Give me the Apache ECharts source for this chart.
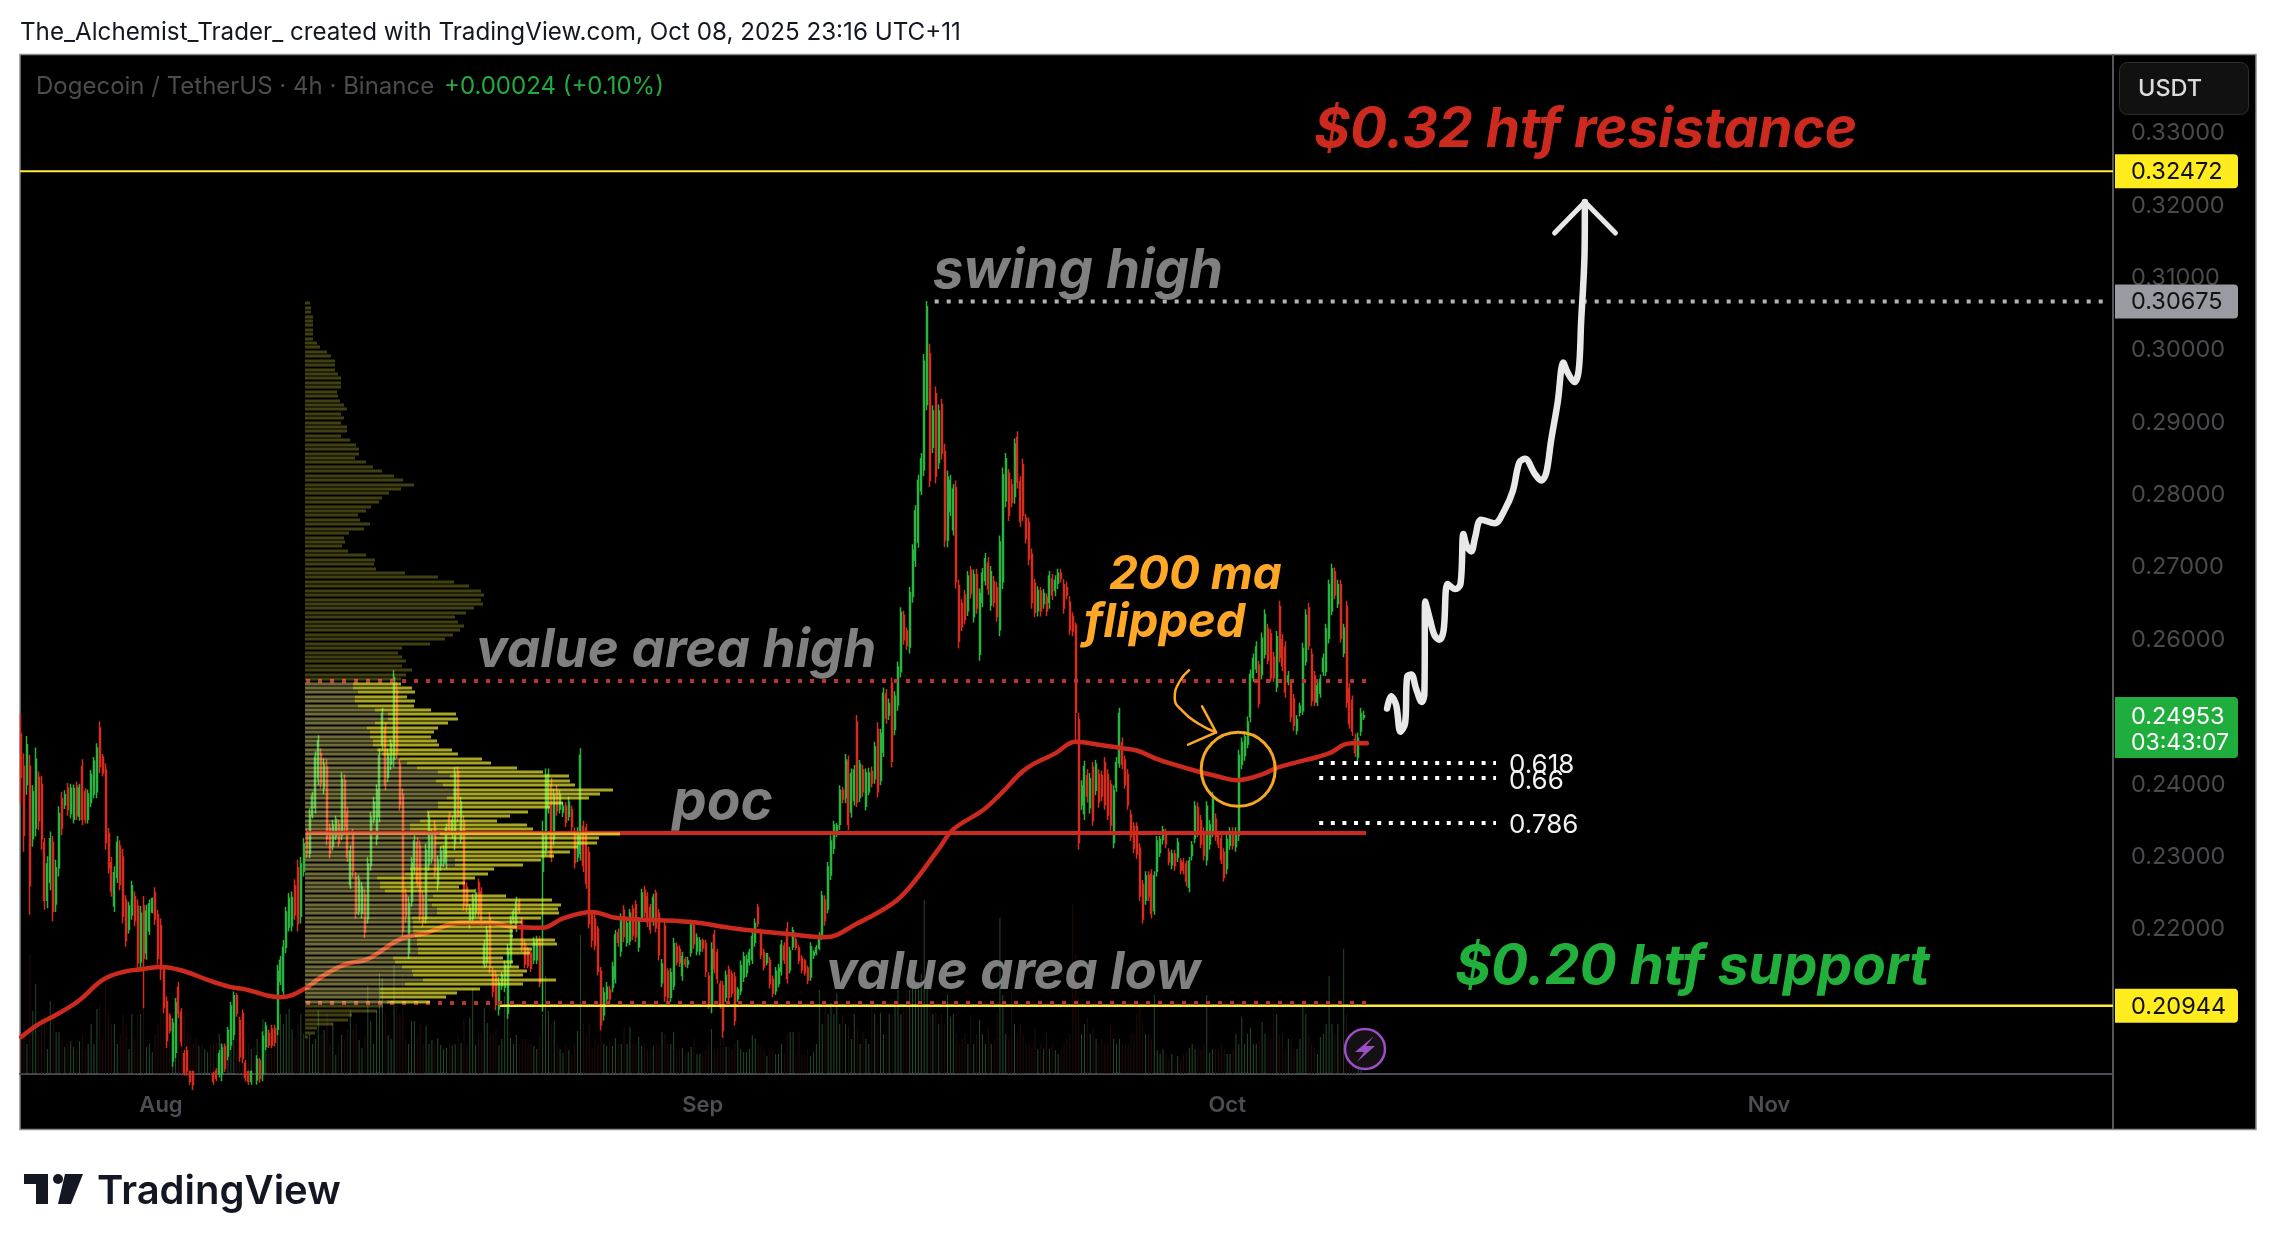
<!DOCTYPE html>
<html>
<head>
<meta charset="utf-8">
<title>DOGE/USDT</title>
<script src="https://cdn.jsdelivr.net/npm/echarts@6/dist/echarts.min.js"></script>
<style>html,body{margin:0;padding:0;background:#fff}#c{width:2276px;height:1250px}</style>
</head>
<body>
<div id="c"></div>
<script>
// Prices are in units of 0.0001 USDT. Every candle is [open, close, low, high].
const candlesJul = [
[2470,2410,2374,2498],[2425,2330,2307,2443],[2400,2455,2386,2467],[2425,2260,2220,2441],[2325,2390,2314,2399],[2340,2435,2328,2451],
[2410,2350,2337,2418],[2400,2325,2310,2412],[2320,2240,2227,2326],[2240,2290,2229,2301],[2265,2325,2254,2335],[2320,2225,2211,2329],
[2235,2285,2224,2296],[2285,2360,2273,2370],[2380,2340,2330,2390],[2372,2386,2366,2392],[2395,2365,2357,2402],[2360,2395,2353,2401],
[2352,2394,2346,2400],[2398,2358,2351,2404],[2356,2395,2350,2401],[2425,2352,2344,2435],[2390,2352,2346,2395],[2352,2387,2346,2393],
[2375,2414,2369,2420],[2387,2432,2381,2438],[2390,2450,2381,2457],[2478,2425,2416,2487],[2438,2416,2411,2442],[2420,2320,2310,2429],
[2332,2285,2277,2340],[2292,2253,2245,2300],[2232,2278,2224,2287],[2272,2320,2264,2329],[2315,2262,2254,2323],[2300,2218,2208,2311],
[2240,2184,2176,2247],[2200,2232,2194,2238],[2220,2260,2213,2267],[2245,2212,2204,2252],[2232,2154,2144,2241],[2155,2222,2144,2232],
[2232,2160,2091,2246],[2168,2225,2158,2234],[2198,2235,2192,2241],[2224,2242,2222,2244],[2250,2214,2206,2258],[2220,2160,2151,2227]
];
const candlesAug = [
[2205,2145,2130,2215],[2145,2092,2084,2151],[2100,2046,2036,2107],[2080,2060,2056,2084],[2018,2070,2010,2077],[2030,2098,2022,2105],
[2120,2084,2077,2127],[2085,2045,2038,2091],[2028,2002,1998,2033],[2032,2004,1998,2038],[2003,1990,1985,2005],[2003,1985,1978,2005],
[1994,1980,1975,1996],[1976,1990,1972,1995],[1990,1974,1970,1992],[1972,1986,1968,1990],[1978,1990,1975,1993],[1993,1982,1978,1995],
[1999,1990,1985,2003],[2004,1994,1990,2008],[2000,2028,1995,2033],[2000,2036,1990,2042],[2038,2008,2003,2042],[2025,2060,2019,2065],
[2040,2094,2033,2100],[2055,2108,2047,2114],[2108,2084,2079,2112],[2074,2024,2017,2079],[2084,2022,2015,2089],[2015,1995,1990,2019],
[2003,1990,1985,2005],[1990,2003,1985,2005],[1995,1985,1980,1998],[1992,2020,1985,2026],[2018,1994,1988,2022],[2000,2052,1990,2059],
[2038,2066,2033,2072],[2056,2040,2036,2061],[2062,2040,2036,2068],[2063,2044,2038,2068],[2062,2142,2054,2151],[2128,2157,2123,2163],
[2115,2175,2105,2185],[2175,2224,2167,2231],[2203,2243,2197,2250],[2205,2244,2197,2252],[2260,2220,2213,2269],[2285,2208,2197,2296],
[2218,2290,2208,2300],[2280,2318,2273,2326],[2332,2305,2298,2339],[2305,2358,2298,2367],[2358,2384,2353,2390],[2368,2438,2360,2446],
[2408,2460,2399,2468],[2442,2402,2394,2450],[2395,2428,2387,2436],[2425,2325,2316,2435],[2340,2305,2298,2346],[2315,2344,2309,2351],
[2328,2352,2323,2357],[2345,2320,2314,2352],[2330,2408,2323,2417],[2405,2342,2334,2414],[2360,2300,2293,2369],[2262,2308,2256,2316],
[2330,2280,2272,2339],[2272,2222,2215,2279],[2225,2268,2219,2275],[2222,2258,2215,2265],[2248,2196,2188,2256],[2215,2290,2208,2300],
[2288,2354,2281,2362],[2352,2376,2346,2383],[2325,2392,2316,2400],[2356,2440,2348,2450],[2455,2498,2447,2506],[2476,2400,2392,2486],
[2410,2442,2403,2450],[2428,2456,2420,2463],[2435,2548,2424,2558],[2530,2445,2436,2542],[2428,2372,2364,2436],[2385,2198,2189,2394],
[2248,2218,2210,2256],[2168,2236,2159,2245],[2238,2292,2231,2300],[2285,2322,2277,2330],[2320,2265,2258,2327],[2315,2220,2212,2323],
[2246,2210,2203,2254],[2215,2310,2208,2318],[2290,2354,2281,2362],[2298,2332,2291,2339],[2342,2280,2272,2350],[2262,2295,2254,2302],
[2288,2308,2281,2314],[2292,2310,2286,2316],[2292,2340,2284,2346],[2355,2338,2330,2362],[2332,2350,2325,2357],[2318,2415,2309,2424],
[2418,2356,2348,2425],[2325,2376,2318,2383],[2350,2234,2226,2357],[2258,2232,2224,2265],[2208,2229,2201,2235],[2216,2243,2210,2249],
[2224,2250,2217,2256],[2264,2224,2217,2270],[2252,2212,2205,2258],[2152,2178,2146,2185],[2155,2198,2148,2205],[2216,2148,2139,2224],
[2142,2114,2106,2148],[2136,2096,2088,2143],[2090,2126,2081,2134],[2122,2136,2116,2141],[2120,2150,2113,2157],[2084,2172,2076,2180],
[2155,2212,2148,2219],[2214,2224,2208,2228],[2202,2238,2196,2245],[2238,2226,2222,2242],[2212,2175,2169,2217],[2180,2152,2146,2185],
[2172,2150,2146,2176],[2167,2146,2141,2171],[2158,2182,2152,2189],[2158,2185,2152,2191],[2186,2126,2120,2191],[2280,2330,2086,2350],
[2310,2412,2302,2422],[2368,2414,2360,2422],[2400,2300,2293,2409],[2325,2385,2316,2394],[2392,2364,2357,2399],[2366,2386,2360,2392],
[2362,2370,2355,2376],[2370,2348,2341,2376],[2356,2376,2350,2383],[2365,2342,2334,2371],[2335,2292,2284,2341],[2300,2334,2293,2341],
[2305,2440,2295,2450],[2342,2288,2279,2350],[2340,2264,2256,2346],[2306,2208,2201,2314],[2225,2185,2175,2225],[2214,2178,2171,2222],
[2200,2142,2136,2205],[2142,2068,2060,2148],[2082,2112,2074,2120],[2104,2120,2097,2127],[2116,2104,2097,2122],[2120,2148,2113,2155],
[2132,2192,2125,2199],[2195,2182,2176,2201],[2170,2215,2162,2222],[2226,2190,2182,2233],[2182,2208,2176,2215],[2184,2222,2178,2228],
[2228,2192,2185,2234],[2234,2190,2182,2240],[2176,2210,2169,2217],[2216,2250,2210,2256],[2254,2224,2217,2260],[2245,2210,2203,2251],
[2230,2200,2194,2235],[2212,2244,2205,2249],[2250,2202,2196,2255],[2222,2165,2157,2228],[2126,2152,2120,2159],[2204,2108,2100,2210],
[2142,2106,2100,2146],[2106,2140,2100,2146],[2122,2180,2116,2188],[2176,2155,2150,2182],[2172,2154,2148,2178],[2136,2162,2129,2169],
[2158,2152,2148,2162],[2152,2156,2146,2162],[2168,2206,2162,2213],[2205,2180,2173,2210],[2170,2188,2164,2194],[2170,2184,2164,2189]
];
const candlesSep = [
[2184,2174,2169,2187],[2180,2142,2134,2185],[2135,2098,2090,2141],[2094,2172,2084,2182],[2192,2146,2139,2199],[2168,2132,2125,2173],
[2124,2096,2090,2129],[2122,2060,2050,2129],[2106,2136,2100,2143],[2144,2106,2100,2150],[2138,2112,2106,2143],[2134,2074,2067,2141],
[2104,2116,2100,2120],[2115,2150,2109,2157],[2134,2162,2127,2169],[2140,2158,2134,2165],[2155,2168,2150,2173],[2158,2190,2152,2196],
[2182,2208,2176,2215],[2230,2208,2203,2235],[2196,2165,2159,2201],[2168,2148,2143,2173],[2154,2166,2150,2166],[2157,2125,2118,2162],
[2131,2112,2106,2136],[2115,2142,2109,2148],[2125,2146,2120,2152],[2142,2178,2136,2185],[2177,2158,2152,2182],[2200,2132,2125,2210],
[2144,2170,2139,2176],[2176,2198,2171,2203],[2185,2175,2171,2189],[2174,2157,2152,2178],[2160,2144,2139,2164],[2156,2140,2136,2159],
[2146,2130,2124,2150],[2134,2176,2129,2182],[2164,2168,2159,2171],[2168,2174,2164,2178],[2174,2190,2171,2196],[2190,2246,2185,2253],
[2240,2212,2205,2247],[2228,2286,2222,2293],[2275,2322,2268,2330],[2312,2344,2304,2350],[2332,2343,2327,2347],[2345,2392,2337,2399],
[2392,2380,2374,2397],[2382,2434,2374,2442],[2432,2345,2337,2440],[2362,2415,2354,2422],[2378,2420,2371,2427],[2486,2376,2369,2496],
[2382,2428,2376,2434],[2420,2390,2383,2427],[2370,2416,2364,2422],[2390,2416,2385,2423],[2418,2402,2396,2425],[2408,2452,2401,2459],
[2476,2390,2382,2486],[2406,2470,2399,2477],[2445,2526,2438,2534],[2525,2492,2484,2532],[2496,2512,2489,2519],[2540,2432,2424,2548],
[2476,2522,2468,2529],[2510,2562,2502,2570],[2556,2638,2548,2645],[2634,2600,2593,2640],[2612,2592,2586,2617],[2590,2665,2581,2673],
[2660,2724,2651,2732],[2710,2778,2701,2786],[2735,2820,2727,2828],[2806,2850,2800,2858],[2835,2985,2826,2995],[2925,3060,2917,3068],
[2995,2820,2811,3009],[2866,2916,2858,2924],[2940,2826,2816,2950],[2845,2916,2836,2925],[2925,2858,2849,2933],[2860,2738,2728,2871],
[2738,2825,2728,2834],[2778,2820,2771,2828],[2752,2808,2744,2815],[2810,2680,2671,2820],[2675,2598,2588,2683],[2650,2618,2612,2656],
[2662,2628,2621,2669],[2640,2688,2633,2695],[2696,2664,2657,2702],[2632,2690,2624,2697],[2690,2644,2636,2698],[2580,2664,2571,2671],
[2652,2692,2645,2699],[2682,2712,2675,2720],[2706,2670,2662,2714],[2648,2694,2640,2702],[2680,2652,2645,2688],[2672,2632,2625,2680],
[2614,2735,2605,2744],[2680,2828,2670,2838],[2792,2850,2783,2858],[2830,2772,2764,2836],[2814,2790,2783,2822],[2798,2870,2788,2878],
[2880,2818,2809,2888],[2818,2764,2756,2826],[2842,2772,2764,2850],[2768,2740,2733,2774],[2762,2712,2703,2769],[2718,2652,2643,2726],
[2678,2638,2631,2684],[2640,2668,2632,2674],[2667,2640,2632,2673],[2650,2664,2643,2670],[2658,2640,2633,2664],[2652,2688,2643,2695],
[2684,2662,2655,2691],[2668,2682,2660,2689],[2678,2692,2670,2698],[2692,2685,2679,2698],[2676,2644,2636,2684],[2672,2662,2656,2680],
[2652,2614,2607,2660],[2632,2612,2605,2638],[2620,2500,2457,2624],[2490,2320,2310,2499],[2372,2398,2365,2406],[2360,2425,2351,2433],
[2412,2384,2375,2421],[2368,2408,2360,2416],[2424,2350,2343,2431],[2392,2428,2385,2434],[2414,2376,2368,2421],[2412,2384,2377,2419],
[2430,2372,2365,2438],[2414,2358,2351,2421],[2400,2344,2336,2406],[2320,2392,2312,2399],[2396,2430,2390,2438],[2430,2498,2423,2506],
[2458,2428,2421,2465],[2434,2400,2394,2440],[2414,2372,2365,2421],[2358,2328,2322,2365],[2342,2312,2305,2348],[2342,2304,2297,2348],
[2312,2246,2239,2319],[2262,2214,2208,2268],[2240,2274,2234,2280],[2274,2246,2239,2280],[2276,2222,2215,2283],[2226,2274,2220,2280],
[2280,2322,2273,2329],[2306,2324,2300,2329],[2324,2337,2317,2343],[2333,2318,2312,2339],[2306,2293,2288,2312],[2289,2304,2283,2310],
[2304,2288,2281,2310],[2300,2320,2293,2326],[2294,2282,2276,2298],[2292,2282,2276,2298],[2290,2266,2259,2295],[2258,2294,2251,2300],
[2302,2316,2295,2322],[2326,2370,2319,2377],[2368,2334,2327,2375],[2350,2318,2312,2358],[2335,2302,2295,2341],[2296,2370,2288,2377],
[2318,2344,2310,2351],[2335,2382,2327,2390],[2352,2328,2322,2360],[2330,2318,2312,2336],[2325,2296,2290,2331],[2306,2272,2266,2312]
];
const candlesOct = [
[2284,2324,2276,2331],[2316,2334,2310,2341],[2334,2316,2310,2341],[2314,2334,2307,2341],[2330,2440,2322,2448],[2428,2458,2421,2465],
[2440,2466,2433,2474],[2456,2486,2450,2494],[2494,2552,2486,2559],[2548,2574,2542,2581],[2560,2590,2554,2598],[2565,2512,2506,2571],
[2552,2602,2545,2610],[2580,2635,2574,2642],[2615,2572,2566,2622],[2608,2548,2542,2615],[2576,2548,2542,2583],[2535,2604,2528,2612],
[2646,2576,2569,2654],[2600,2564,2557,2608],[2590,2528,2520,2598],[2542,2550,2537,2557],[2540,2494,2486,2545],[2518,2482,2474,2525],
[2475,2490,2469,2496],[2500,2508,2494,2513],[2502,2588,2496,2596],[2570,2634,2564,2642],[2644,2592,2586,2651],[2580,2516,2508,2588],
[2550,2514,2508,2557],[2514,2536,2508,2542],[2526,2545,2520,2552],[2556,2574,2550,2581],[2556,2615,2550,2622],[2602,2676,2595,2683],
[2640,2698,2634,2705],[2694,2662,2656,2700],[2650,2676,2644,2683],[2676,2602,2596,2683],[2582,2616,2576,2622],[2646,2514,2506,2654],
[2532,2484,2477,2540],[2516,2474,2467,2523],[2462,2444,2438,2470],[2438,2464,2431,2472],[2474,2498,2467,2506],[2493,2495,2489,2502]
];
const volumes = [
35,50,30,120,63,90,40,55,60,25,73,70,42,42,35,27,30,33,27,25,33,40,25,30,50,30,65,70,35,100,60,50,50,30,40,60,50,25,60,35,60,60,110,27,30,22,40,50,
70,60,70,35,45,50,50,40,60,40,40,30,35,28,30,25,22,28,30,30,40,30,30,25,45,40,35,40,35,40,30,25,28,35,30,55,30,25,28,25,70,60,50,60,65,45,35,50,60,40,
35,40,30,35,64,40,44,60,30,51,19,30,39,35,45,64,45,50,34,26,40,88,53,30,63,101,96,60,39,35,109,70,60,100,35,30,53,53,35,50,30,48,30,34,30,36,29,25,26,30,
29,30,40,31,55,30,56,86,29,40,40,66,51,40,40,45,29,35,78,63,36,30,39,30,35,35,30,30,28,25,39,60,98,63,50,53,30,25,21,30,24,19,30,43,139,50,40,50,26,35,
30,60,30,28,34,28,36,30,30,47,30,47,30,30,37,28,30,25,25,28,30,30,42,40,30,30,42,25,25,26,20,22,27,35,20,20,18,25,30,45,25,25,35,40,27,27,25,30,34,25,
22,22,25,39,36,30,28,25,18,25,25,20,20,30,20,40,42,42,20,42,20,20,25,18,22,30,84,50,71,60,71,60,81,50,59,50,47,35,60,47,30,42,35,30,71,60,50,61,40,40,
60,59,67,84,60,70,84,84,86,86,92,100,174,90,74,60,61,50,60,50,79,57,60,40,30,35,41,30,59,30,40,54,40,30,47,30,35,60,156,79,40,35,81,50,40,50,40,30,30,28,
47,25,30,25,42,25,30,24,20,25,30,35,40,170,120,77,40,50,57,40,47,35,30,35,30,30,49,35,30,35,30,30,30,40,40,60,70,51,40,40,35,79,24,20,25,20,15,20,12,18,
15,20,22,26,30,25,25,25,30,79,21,25,25,25,30,25,20,20,25,40,30,57,30,40,46,30,30,35,52,40,40,35,66,60,40,40,25,35,35,25,25,35,72,60,40,30,27,20,37,40,
50,98,50,41,50,35,125,60,40,30,30,15,4
];
// 200 period moving average: candle index and value.
const maIndex = [0,6,13,20,28,35,42,48,56,64,72,77,84,89,97,103,111,119,130,139,151,161,169,179,186,196,204,230,245,264,276,287,299,305,315,320,330,336,345,355,362,370,378,383,390,397,404,411,417,421,426,431,438,445,450,454,457,462];
const maValues = [2051,2069,2084,2102,2130,2141,2145,2148,2142,2130,2120,2117,2109,2106,2117,2134,2151,2159,2186,2195,2209,2209,2203,2202,2215,2224,2216,2210,2201,2193,2189,2208,2235,2258,2311,2338,2364,2386,2422,2443,2459,2455,2450,2447,2435,2426,2418,2411,2406,2408,2414,2423,2431,2438,2445,2455,2457,2457];
// Volume profile rows, top to bottom. Totals for all rows, and the part of each value area row in the pale tone.
const profileTopPrice = 0.3065;
const profileRowStep = 0.000611;
const profileTotals = [
5,6,6,8,8,8,8,8,8,12,15,22,26,30,30,30,33,36,36,36,32,33,35,39,42,36,39,36,42,42,36,45,51,54,54,50,61,68,77,89,98,109,96,84,77,74,66,61,53,55,65,59,44,39,40,37,43,61,70,69,71,100,133,149,164,176,179,176,178,169,161,150,153,159,155,148,140,125,97,93,97,101,97,107,101,96,
96,107,110,102,110,109,126,151,153,143,133,129,126,132,134,147,153,177,186,212,238,264,265,270,308,295,284,258,245,223,205,192,222,228,315,294,292,273,265,249,236,218,189,183,170,160,154,170,201,247,256,253,254,236,217,212,208,208,250,252,227,225,198,208,214,222,218,251,218,175,152,141,125,
78,72,47,43,28,12,10,3
];
const profilePale = [
48,48,53,50,50,53,70,83,83,70,62,65,65,68,68,72,77,95,102,112,133,145,131,138,148,148,142,133,133,122,122,115,105,105,135,130,130,135,140,140,150,150,105,100,72,75,75,80,128,123,127,132,132,107,108,108,108,110,112,112,113,113,88,90,97,107,108,118,100,75,75,75,82
];
const firstValueAreaRow = 86;
// Price levels
const resistance = 0.32472, swingHigh = 0.30675, support = 0.20944;
const valueAreaHigh = 0.2543, valueAreaLow = 0.2098, pointOfControl = 0.2333;
const fib618 = 0.24297, fib66 = 0.2409, fib786 = 0.23468;
const lastClose = 0.24953;
const priceTicks = [0.33,0.32,0.31,0.30,0.29,0.28,0.27,0.26,0.25,0.24,0.23,0.22];
const monthTicks = ['2025-08-01','2025-09-01','2025-10-01','2025-11-01'];
const monthNames = ['Aug','Sep','Oct','Nov'];
const tagPrices = [resistance, swingHigh, lastClose, support];
const tagLabels = ['0.32472','0.30675','0.24953','0.20944'];
const tagFills = ['#ffec1f','#9a9aa2','#1fae3e','#ffec1f'];
const tagInks = ['#111','#111','#fff','#111'];
const tagExtra = ['','','03:43:07',''];
// Hand-drawn projection: candle index and price.
const pathIndex = [468.9,470.3,472,473.5,475.1,475.8,477.2,478.9,480.8,481.7,482,483.5,485.2,486.9,488.3,489.7,492.3,494.1,495.1,496.3,497.8,499.1,501.2,505.8,509.2,512.1,514.3,516.3,519.5,521.8,523.5,525.2,527.5,529.4,530.9,533.2,534.7,535.5,536.7,536.8];
const pathPrice = [2505,2522,2510,2473,2485,2549,2552,2532,2514,2524,2653,2630,2606,2600,2613,2677,2670,2677,2746,2729,2722,2741,2766,2761,2779,2806,2845,2850,2830,2820,2830,2875,2929,2983,2969,2956,2973,3038,3136,3205];
const pathHeadIndex = [526.4,536.8,547.3];
const pathHeadPrice = [3162,3205,3162];
const hookIndex = [400.9,397.6,396,398.8,404.2,410.2];
const hookPrice = [2558,2542,2520,2501,2484,2472];
const hookHeadIndex = [405.4,410.2,400.6];
const hookHeadPrice = [2508,2472,2455];
const flipIndex = 417.8, flipPrice = 2421;

const FOUR_H = 4 * 3600 * 1000;
const T0 = Date.UTC(2025, 6, 24, 0, 0);
const timeAt = i => T0 + i * FOUR_H;
const PRICE_MIN = 0.2, PRICE_MAX = 0.3408;
const candles = [].concat(candlesJul, candlesAug, candlesSep, candlesOct);
const UP = '#27b540', DOWN = '#d62c1e';
const candleData = candles.map((c, i) => [timeAt(i), c[0]/1e4, c[1]/1e4, c[2]/1e4, c[3]/1e4]);
const volumeData = volumes.map((v, i) => ({
  value: [timeAt(i), v],
  itemStyle: { color: candles[i][1] >= candles[i][0] ? '#244a2b' : '#240c0a' }
}));
const pts = (xs, ys) => xs.map((x, i) => [timeAt(x), ys[i]/1e4]);

function level(name, from, to, price, color, width, type) {
  return { name, type: 'line', data: [[timeAt(from), price], [timeAt(to), price]], symbol: 'none', silent: true, z: 3,
    lineStyle: { color, width, type: type || 'solid', cap: 'butt' } };
}
function drawn(name, data, color, width, smooth, z) {
  return { name, type: 'line', data, symbol: 'none', smooth: smooth || false, silent: true, z: z || 7, clip: false,
    lineStyle: { color, width, cap: 'round', join: 'round' } };
}

const profileData = profileTotals.map((t, r) => {
  const k = r - firstValueAreaRow;
  const inVA = k >= 0 && k < profilePale.length;
  return [t, profileTopPrice - r * profileRowStep, inVA ? profilePale[k] : 0, inVA ? 1 : 0];
});

const txt = (text, x, y, font, fill, extra) => Object.assign({
  type: 'text', x, y, z: 100, silent: true,
  style: { text, font, fill, textAlign: 'left', textVerticalAlign: 'middle' }
}, extra || {});

const chart = echarts.init(document.getElementById('c'), null, { renderer: 'canvas', width: 2276, height: 1250 });
chart.setOption({
  animation: false,
  backgroundColor: '#ffffff',
  grid: [
    { left: 20, top: 55, width: 2093, height: 1019, containLabel: false },
    { left: 305, top: 55, width: 1000, height: 1019, containLabel: false }
  ],
  xAxis: [
    { type: 'value', gridIndex: 0, min: timeAt(-0.4), max: timeAt(718.1), splitLine: { show: false },
      axisLine: { show: true, onZero: false, lineStyle: { color: '#4a4a58', width: 2 } }, axisTick: { show: false },
      axisLabel: { customValues: monthTicks.map(d => Date.parse(d + 'T00:00:00Z')), margin: 20, color: '#4d4d55', fontFamily: 'Inter', fontWeight: 600, fontSize: 22,
        formatter: v => monthNames[new Date(v).getUTCMonth() - 7] } },
    { type: 'value', gridIndex: 1, min: 0, max: 1000, show: false }
  ],
  yAxis: [
    { type: 'value', gridIndex: 0, position: 'right', min: PRICE_MIN, max: PRICE_MAX, splitLine: { show: false },
      axisLine: { show: true, onZero: false, lineStyle: { color: '#55555c', width: 2 } }, axisTick: { show: false },
      axisLabel: { customValues: priceTicks, margin: 18, color: '#4a4a4e', fontFamily: 'Inter', fontSize: 23.5, padding: [4, 0, 0, 0], formatter: v => v.toFixed(5) } },
    { type: 'value', gridIndex: 0, min: 0, max: 1019, show: false },
    { type: 'value', gridIndex: 1, min: PRICE_MIN, max: PRICE_MAX, show: false }
  ],
  graphic: [
    { type: 'rect', z: -100, silent: true, shape: { x: 20, y: 54.5, width: 2236, height: 1075 }, style: { fill: '#000', stroke: '#8c8c8c', lineWidth: 1.5 } },
    { type: 'line', z: 1, silent: true, shape: { x1: 2113, y1: 1074, x2: 2113, y2: 1129 }, style: { stroke: '#55555c', lineWidth: 2 } },
    { type: 'rect', z: 90, silent: true, shape: { x: 2119.5, y: 62.5, width: 129, height: 52, r: 8 }, style: { fill: '#111', stroke: '#2e2e2e', lineWidth: 1 } },
    txt('USDT', 2138, 89, '500 23.5px Inter', '#dcdcdc'),
    txt('The_Alchemist_Trader_ created with TradingView.com, Oct 08, 2025 23:16 UTC+11', 20, 33, '400 24.2px Inter', '#131722'),
    txt('Dogecoin / TetherUS · 4h · Binance', 36, 87, '400 24px Inter', '#4c4c4c'),
    txt('+0.00024 (+0.10%)', 444, 87, '400 24px Inter', '#22ab3f'),
    txt('$0.32 htf resistance', 1314, 130, 'italic 700 55px Inter', '#cc2a1e'),
    txt('swing high', 933, 272, 'italic 700 54.5px Inter', '#808080'),
    txt('value area high', 476, 651, 'italic 700 53px Inter', '#808080'),
    txt('poc', 672, 802, 'italic 700 55px Inter', '#808080'),
    txt('value area low', 826, 973, 'italic 700 52.6px Inter', '#808080'),
    txt('$0.20 htf support', 1455, 967, 'italic 700 55px Inter', '#22b03c'),
    txt('200 ma', 1109, 575, 'italic 700 46px Inter', '#ffa726'),
    txt('flipped', 1084, 623, 'italic 700 47px Inter', '#ffa726'),
    txt('0.618', 1509, 765, '400 26px Inter', '#f2f2f2'),
    txt('0.66', 1509, 781, '400 26px Inter', '#f2f2f2'),
    txt('0.786', 1509, 825, '400 26px Inter', '#f2f2f2'),
    { type: 'circle', z: 95, silent: true, shape: { cx: 1365, cy: 1049, r: 20 }, style: { fill: '#141014', stroke: '#9c4fc4', lineWidth: 2.5 } },
    { type: 'polygon', z: 96, silent: true, shape: { points: [[1374,1036],[1355,1052],[1364,1052],[1357,1062],[1375,1046],[1366,1046]] }, style: { fill: '#9c4fc4' } },
    { type: 'polygon', z: 95, silent: true, shape: { points: [[24,1174],[48,1174],[48,1204],[36,1204],[36,1184],[24,1184]] }, style: { fill: '#131722' } },
    { type: 'circle', z: 95, silent: true, shape: { cx: 58, cy: 1179, r: 5 }, style: { fill: '#131722' } },
    { type: 'polygon', z: 95, silent: true, shape: { points: [[65,1174],[83,1174],[71,1204],[58,1204]] }, style: { fill: '#131722' } },
    txt('TradingView', 97, 1192, '600 40px Inter', '#131722')
  ],
  series: [
    { name: 'Volume', type: 'bar', xAxisIndex: 0, yAxisIndex: 1, barWidth: 1, data: volumeData, z: 1, silent: true },
    { name: 'DOGE/USDT', type: 'candlestick', xAxisIndex: 0, yAxisIndex: 0, barWidth: 1.5, data: candleData, z: 2, silent: true,
      encode: { x: 0, y: [1, 2, 3, 4] },
      itemStyle: { color: UP, color0: DOWN, borderColor: UP, borderColor0: DOWN, borderWidth: 1.5 } },
    level('Resistance', -0.4, 718.1, resistance, '#ffec3a', 2),
    level('Support', 164.4, 718.1, support, '#ffec3a', 2.5),
    level('Swing high', 313.6, 715.8, swingHigh, '#b4b4b4', 4, [4, 8]),
    level('Value area high', 97.8, 461.7, valueAreaHigh, '#b83535', 4, [4, 8]),
    level('Value area low', 97.8, 461.7, valueAreaLow, '#b83535', 4, [4, 8]),
    level('POC', 97.8, 461.7, pointOfControl, '#cc2a1e', 4),
    level('Fib 0.618', 445.6, 506.3, fib618, '#ffffff', 4, [4, 7.6]),
    level('Fib 0.66', 445.6, 506.3, fib66, '#ffffff', 4, [4, 7.6]),
    level('Fib 0.786', 445.6, 506.3, fib786, '#ffffff', 4, [4, 7.6]),
    drawn('MA 200', pts(maIndex, maValues), '#cc2a1e', 4.5, 0.4, 4),
    { name: 'Volume profile', type: 'custom', xAxisIndex: 1, yAxisIndex: 2, data: profileData, z: 6, silent: true, clip: false,
      encode: { x: 0, y: 1 },
      renderItem: (params, api) => {
        const total = api.value(0), price = api.value(1), pale = api.value(2), inVA = api.value(3);
        const o = api.coord([0, price]);
        const y = Math.round(o[1]) - 1.5;
        const full = api.size([total, 0])[0];
        const split = api.size([pale, 0])[0];
        const kids = [];
        if (!inVA) {
          kids.push({ type: 'rect', shape: { x: o[0], y, width: full, height: 3 }, style: { fill: 'rgba(254,246,70,0.26)' } });
        } else {
          kids.push({ type: 'rect', shape: { x: o[0], y, width: split, height: 3 }, style: { fill: 'rgba(245,236,127,0.46)' } });
          kids.push({ type: 'rect', shape: { x: o[0] + split, y, width: full - split, height: 3 }, style: { fill: 'rgba(251,244,55,0.68)' } });
        }
        return { type: 'group', children: kids };
      } },
    drawn('Projection', pts(pathIndex, pathPrice), '#e8e8e8', 6.5, 0.35),
    drawn('Projection head', pts(pathHeadIndex, pathHeadPrice), '#e8e8e8', 5),
    drawn('Hook', pts(hookIndex, hookPrice), '#ffa726', 2.5, 0.5),
    drawn('Hook head', pts(hookHeadIndex, hookHeadPrice), '#ffa726', 2.5),
    { name: 'Flip circle', type: 'custom', xAxisIndex: 0, yAxisIndex: 0, data: [[timeAt(flipIndex), flipPrice/1e4]], z: 7, silent: true, clip: false,
      encode: { x: 0, y: 1 },
      renderItem: (params, api) => {
        const c = api.coord([api.value(0), api.value(1)]);
        return { type: 'circle', shape: { cx: c[0], cy: c[1], r: 37 }, style: { fill: 'none', stroke: '#f5a623', lineWidth: 3 } };
      } },
    { name: 'Price tags', type: 'custom', xAxisIndex: 0, yAxisIndex: 0, data: tagPrices.map(p => [T0, p]), z: 9, silent: true, clip: false,
      encode: { x: 0, y: 1 },
      renderItem: (params, api) => {
        const i = params.dataIndex;
        const y = api.coord([api.value(0), api.value(1)])[1];
        const x = params.coordSys.x + params.coordSys.width + 2;
        const extra = tagExtra[i];
        const top = extra ? y - 18.5 : y - 17;
        const kids = [
          { type: 'rect', shape: { x, y: top, width: 123, height: extra ? 61 : 34, r: [0, 4, 4, 0] }, style: { fill: tagFills[i] } },
          { type: 'text', style: { x: x + 16, y: y + 1, text: tagLabels[i], font: '400 23.5px Inter', fill: tagInks[i], textAlign: 'left', textVerticalAlign: 'middle' } }
        ];
        if (extra) kids.push({ type: 'text', style: { x: x + 16, y: y + 28, text: extra, font: '400 23px Inter', fill: tagInks[i], textAlign: 'left', textVerticalAlign: 'middle' } });
        return { type: 'group', children: kids };
      } }
  ]
});
</script>
</body>
</html>
